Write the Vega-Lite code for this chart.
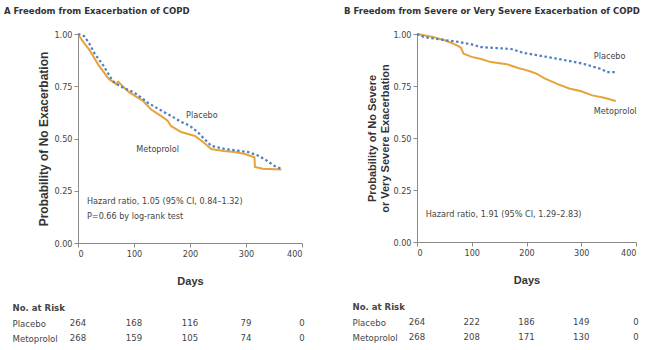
{
  "$schema": "https://vega.github.io/schema/vega-lite/v6.json",
  "padding": {"left": 4, "top": 6, "right": 2, "bottom": 2},
  "background": "white",
  "config": {
    "view": {"stroke": null},
    "font": "Liberation Sans Narrow, DejaVu Sans Condensed, sans-serif",
    "axis": {
      "grid": false,
      "domainColor": "#8a8a8a",
      "tickColor": "#8a8a8a",
      "tickSize": 4,
      "labelFont": "Liberation Sans Narrow, DejaVu Sans Condensed, sans-serif",
      "labelFontSize": 9,
      "labelColor": "#444",
      "titleFont": "Liberation Sans, DejaVu Sans, sans-serif",
      "titleFontSize": 11,
      "titleFontWeight": "bold",
      "titleColor": "#333"
    },
    "text": {"font": "Liberation Sans Narrow, DejaVu Sans Condensed, sans-serif", "fontSize": 9, "color": "#444"},
    "title": {"font": "Liberation Sans Narrow, DejaVu Sans Condensed, sans-serif", "fontSize": 9.5, "fontWeight": "bold", "color": "#333", "anchor": "start"}
  },
  "datasets": {
    "curvesA": [
      {"group": "Placebo", "day": 0, "p": 1.0},
      {"group": "Placebo", "day": 11, "p": 0.99},
      {"group": "Placebo", "day": 20, "p": 0.955},
      {"group": "Placebo", "day": 30, "p": 0.905},
      {"group": "Placebo", "day": 45, "p": 0.85},
      {"group": "Placebo", "day": 62, "p": 0.775},
      {"group": "Placebo", "day": 75, "p": 0.75},
      {"group": "Placebo", "day": 86, "p": 0.737},
      {"group": "Placebo", "day": 100, "p": 0.72},
      {"group": "Placebo", "day": 116, "p": 0.69},
      {"group": "Placebo", "day": 125, "p": 0.67},
      {"group": "Placebo", "day": 148, "p": 0.635},
      {"group": "Placebo", "day": 165, "p": 0.61},
      {"group": "Placebo", "day": 184, "p": 0.58},
      {"group": "Placebo", "day": 200, "p": 0.56},
      {"group": "Placebo", "day": 214, "p": 0.53},
      {"group": "Placebo", "day": 225, "p": 0.5},
      {"group": "Placebo", "day": 238, "p": 0.465},
      {"group": "Placebo", "day": 262, "p": 0.45},
      {"group": "Placebo", "day": 304, "p": 0.435},
      {"group": "Placebo", "day": 320, "p": 0.42},
      {"group": "Placebo", "day": 334, "p": 0.4},
      {"group": "Placebo", "day": 351, "p": 0.368},
      {"group": "Placebo", "day": 363, "p": 0.354},
      {"group": "Metoprolol", "day": 0, "p": 1.0},
      {"group": "Metoprolol", "day": 2, "p": 0.99},
      {"group": "Metoprolol", "day": 10, "p": 0.96},
      {"group": "Metoprolol", "day": 20, "p": 0.925},
      {"group": "Metoprolol", "day": 37, "p": 0.85},
      {"group": "Metoprolol", "day": 55, "p": 0.785},
      {"group": "Metoprolol", "day": 68, "p": 0.76},
      {"group": "Metoprolol", "day": 72, "p": 0.772},
      {"group": "Metoprolol", "day": 78, "p": 0.755},
      {"group": "Metoprolol", "day": 91, "p": 0.722},
      {"group": "Metoprolol", "day": 116, "p": 0.68},
      {"group": "Metoprolol", "day": 130, "p": 0.64},
      {"group": "Metoprolol", "day": 148, "p": 0.608},
      {"group": "Metoprolol", "day": 160, "p": 0.585},
      {"group": "Metoprolol", "day": 166, "p": 0.56},
      {"group": "Metoprolol", "day": 184, "p": 0.531},
      {"group": "Metoprolol", "day": 209, "p": 0.512},
      {"group": "Metoprolol", "day": 225, "p": 0.48},
      {"group": "Metoprolol", "day": 238, "p": 0.45},
      {"group": "Metoprolol", "day": 260, "p": 0.44},
      {"group": "Metoprolol", "day": 280, "p": 0.435},
      {"group": "Metoprolol", "day": 298, "p": 0.426},
      {"group": "Metoprolol", "day": 315, "p": 0.41},
      {"group": "Metoprolol", "day": 316, "p": 0.364},
      {"group": "Metoprolol", "day": 330, "p": 0.355},
      {"group": "Metoprolol", "day": 363, "p": 0.352}
    ],
    "curvesB": [
      {"group": "Placebo", "day": 0, "p": 1.0},
      {"group": "Placebo", "day": 13, "p": 0.985},
      {"group": "Placebo", "day": 44, "p": 0.973},
      {"group": "Placebo", "day": 73, "p": 0.963},
      {"group": "Placebo", "day": 100, "p": 0.95},
      {"group": "Placebo", "day": 117, "p": 0.937},
      {"group": "Placebo", "day": 172, "p": 0.928},
      {"group": "Placebo", "day": 195, "p": 0.909},
      {"group": "Placebo", "day": 226, "p": 0.895},
      {"group": "Placebo", "day": 269, "p": 0.875},
      {"group": "Placebo", "day": 305, "p": 0.856},
      {"group": "Placebo", "day": 336, "p": 0.832},
      {"group": "Placebo", "day": 347, "p": 0.817},
      {"group": "Placebo", "day": 363, "p": 0.817},
      {"group": "Metoprolol", "day": 0, "p": 1.0},
      {"group": "Metoprolol", "day": 15, "p": 0.993},
      {"group": "Metoprolol", "day": 31, "p": 0.985},
      {"group": "Metoprolol", "day": 50, "p": 0.97},
      {"group": "Metoprolol", "day": 65, "p": 0.955},
      {"group": "Metoprolol", "day": 73, "p": 0.945},
      {"group": "Metoprolol", "day": 80, "p": 0.935},
      {"group": "Metoprolol", "day": 85, "p": 0.905},
      {"group": "Metoprolol", "day": 100, "p": 0.89},
      {"group": "Metoprolol", "day": 117, "p": 0.88},
      {"group": "Metoprolol", "day": 135, "p": 0.865},
      {"group": "Metoprolol", "day": 164, "p": 0.855},
      {"group": "Metoprolol", "day": 186, "p": 0.835},
      {"group": "Metoprolol", "day": 195, "p": 0.83},
      {"group": "Metoprolol", "day": 210, "p": 0.817},
      {"group": "Metoprolol", "day": 219, "p": 0.808},
      {"group": "Metoprolol", "day": 232, "p": 0.788},
      {"group": "Metoprolol", "day": 256, "p": 0.76},
      {"group": "Metoprolol", "day": 278, "p": 0.738},
      {"group": "Metoprolol", "day": 300, "p": 0.725},
      {"group": "Metoprolol", "day": 320, "p": 0.705},
      {"group": "Metoprolol", "day": 340, "p": 0.695},
      {"group": "Metoprolol", "day": 363, "p": 0.678}
    ],
    "notesA": [
      {"day": 193, "p": 0.612, "label": "Placebo"},
      {"day": 104, "p": 0.45, "label": "Metoprolol"},
      {"day": 16, "p": 0.2, "label": "Hazard ratio, 1.05 (95% CI, 0.84–1.32)"},
      {"day": 16, "p": 0.13, "label": "P=0.66 by log-rank test"}
    ],
    "notesB": [
      {"day": 323, "p": 0.894, "label": "Placebo"},
      {"day": 323, "p": 0.63, "label": "Metoprolol"},
      {"day": 16, "p": 0.135, "label": "Hazard ratio, 1.91 (95% CI, 1.29–2.83)"}
    ],
    "riskA": [
      {"row": "Placebo", "day": 0, "n": "264"},
      {"row": "Placebo", "day": 100, "n": "168"},
      {"row": "Placebo", "day": 200, "n": "116"},
      {"row": "Placebo", "day": 300, "n": "79"},
      {"row": "Placebo", "day": 400, "n": "0"},
      {"row": "Metoprolol", "day": 0, "n": "268"},
      {"row": "Metoprolol", "day": 100, "n": "159"},
      {"row": "Metoprolol", "day": 200, "n": "105"},
      {"row": "Metoprolol", "day": 300, "n": "74"},
      {"row": "Metoprolol", "day": 400, "n": "0"}
    ],
    "riskB": [
      {"row": "Placebo", "day": 0, "n": "264"},
      {"row": "Placebo", "day": 100, "n": "222"},
      {"row": "Placebo", "day": 200, "n": "186"},
      {"row": "Placebo", "day": 300, "n": "149"},
      {"row": "Placebo", "day": 400, "n": "0"},
      {"row": "Metoprolol", "day": 0, "n": "268"},
      {"row": "Metoprolol", "day": 100, "n": "208"},
      {"row": "Metoprolol", "day": 200, "n": "171"},
      {"row": "Metoprolol", "day": 300, "n": "130"},
      {"row": "Metoprolol", "day": 400, "n": "0"}
    ]
  },
  "spacing": 39,
  "hconcat": [
    {
      "title": {"text": "A  Freedom from Exacerbation of COPD", "offset": 14, "dx": -8},
      "spacing": 14,
      "vconcat": [
        {
          "width": 224,
          "height": 209,
          "encoding": {
            "x": {"field": "day", "type": "quantitative", "scale": {"domain": [0, 400]},
                  "axis": {"values": [0, 100, 200, 300, 400], "title": "Days", "titlePadding": 17}},
            "y": {"field": "p", "type": "quantitative", "scale": {"domain": [0, 1]},
                  "axis": {"values": [0, 0.25, 0.5, 0.75, 1], "format": ".2f", "title": "Probability of No Exacerbation", "titlePadding": 3, "titleFontSize": 12}}
          },
          "layer": [
            {"data": {"name": "curvesA"}, "transform": [{"filter": "datum.group === 'Metoprolol'"}],
             "mark": {"type": "line", "color": "#E8A23A", "strokeWidth": 2}},
            {"data": {"name": "curvesA"}, "transform": [{"filter": "datum.group === 'Placebo'"}],
             "mark": {"type": "line", "color": "#4E7FC2", "strokeWidth": 2.2, "strokeDash": [2.5, 2.5]}},
            {"data": {"name": "notesA"}, "mark": {"type": "text", "align": "left", "baseline": "middle"},
             "encoding": {"text": {"field": "label"}}}
          ]
        },
        {
          "width": 224,
          "height": 46,
          "data": {"name": "riskA"},
          "mark": {"type": "text", "baseline": "middle", "fontSize": 9.5},
          "encoding": {
            "x": {"field": "day", "type": "quantitative", "scale": {"domain": [0, 400]}, "axis": null},
            "y": {"field": "row", "type": "nominal", "scale": {"domain": ["No. at Risk", "Placebo", "Metoprolol"]},
                  "axis": {"title": null, "domain": false, "ticks": false, "labelAlign": "left", "labelPadding": 66,
                           "labelFontSize": 9.5, "labelColor": "#444",
                           "labelFontWeight": {"condition": {"test": "datum.value === 'No. at Risk'", "value": "bold"}, "value": "normal"}}},
            "text": {"field": "n"}
          }
        }
      ]
    },
    {
      "title": {"text": "B  Freedom from Severe or Very Severe Exacerbation of COPD", "offset": 14, "dx": -8},
      "spacing": 14,
      "vconcat": [
        {
          "width": 219,
          "height": 208,
          "encoding": {
            "x": {"field": "day", "type": "quantitative", "scale": {"domain": [0, 400]},
                  "axis": {"values": [0, 100, 200, 300, 400], "title": "Days", "titlePadding": 17}},
            "y": {"field": "p", "type": "quantitative", "scale": {"domain": [0, 1]},
                  "axis": {"values": [0, 0.25, 0.5, 0.75, 1], "format": ".2f", "title": ["Probability of No Severe", "or Very Severe Exacerbation"], "titlePadding": 2}}
          },
          "layer": [
            {"data": {"name": "curvesB"}, "transform": [{"filter": "datum.group === 'Metoprolol'"}],
             "mark": {"type": "line", "color": "#E8A23A", "strokeWidth": 2}},
            {"data": {"name": "curvesB"}, "transform": [{"filter": "datum.group === 'Placebo'"}],
             "mark": {"type": "line", "color": "#4E7FC2", "strokeWidth": 2.2, "strokeDash": [2.5, 2.5]}},
            {"data": {"name": "notesB"}, "mark": {"type": "text", "align": "left", "baseline": "middle"},
             "encoding": {"text": {"field": "label"}}}
          ]
        },
        {
          "width": 219,
          "height": 46,
          "data": {"name": "riskB"},
          "mark": {"type": "text", "baseline": "middle", "fontSize": 9.5},
          "encoding": {
            "x": {"field": "day", "type": "quantitative", "scale": {"domain": [0, 400]}, "axis": null},
            "y": {"field": "row", "type": "nominal", "scale": {"domain": ["No. at Risk", "Placebo", "Metoprolol"]},
                  "axis": {"title": null, "domain": false, "ticks": false, "labelAlign": "left", "labelPadding": 65,
                           "labelFontSize": 9.5, "labelColor": "#444",
                           "labelFontWeight": {"condition": {"test": "datum.value === 'No. at Risk'", "value": "bold"}, "value": "normal"}}},
            "text": {"field": "n"}
          }
        }
      ]
    }
  ]
}
